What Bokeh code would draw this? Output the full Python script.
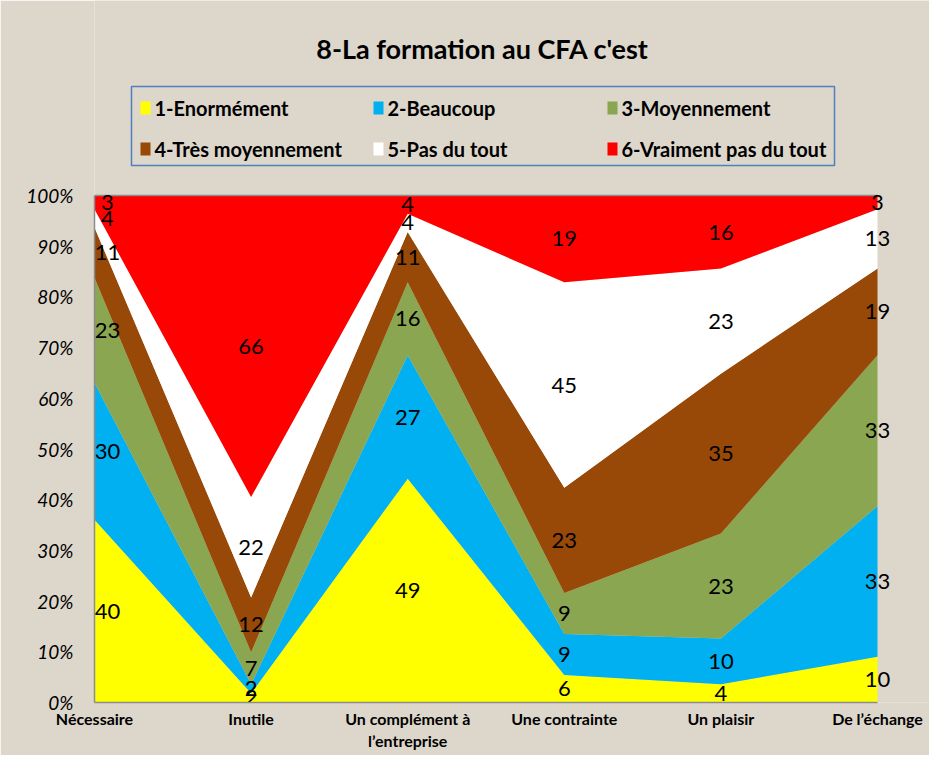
from bokeh.plotting import figure
from bokeh.models import Range1d, FixedTicker, ColumnDataSource
from bokeh.core.properties import value
from bokeh.embed import file_html
from bokeh.resources import INLINE
import numpy as np

categories = ["Nécessaire", "Inutile", "Un complément à\nl’entreprise", "Une contrainte", "Un plaisir", "De l’échange"]
series_names = ["1-Enormément", "2-Beaucoup", "3-Moyennement", "4-Très moyennement", "5-Pas du tout", "6-Vraiment pas du tout"]
enormement = [40, 2, 49, 6, 4, 10]
beaucoup = [30, 2, 27, 9, 10, 33]
moyennement = [23, 7, 16, 9, 23, 33]
tres_moyennement = [11, 12, 11, 23, 35, 19]
pas_du_tout = [4, 22, 4, 45, 23, 13]
vraiment_pas = [3, 66, 4, 19, 16, 3]
colors = ["#ffff00", "#00b0f0", "#8aa650", "#984807", "#ffffff", "#ff0000"]
y_ticks = [0, 10, 20, 30, 40, 50, 60, 70, 80, 90, 100]
title_text = "8-La formation au CFA c'est"

FONT = "Lato"
BG = "#ddd6cb"
series = [enormement, beaucoup, moyennement, tres_moyennement, pas_du_tout, vraiment_pas]
counts = np.array(series, dtype=float)
pct = counts / counts.sum(axis=0) * 100.0
x = list(range(len(categories)))

# layout geometry (page pixels)
W, H = 929, 755
LEFT, BOTTOM = 94, 702          # plot-area left / bottom in pixels
PX_X = 156.6                    # pixels per category step
PX_Y = 5.07                     # pixels per percent


def dx(px):
    return (px - LEFT) / PX_X


def dy(py):
    return (BOTTOM - py) / PX_Y


data = {"x": x}
keys = []
for i, row in enumerate(pct):
    k = f"s{i}"
    keys.append(k)
    data[k] = list(row)
src = ColumnDataSource(data)

p = figure(width=W, height=H, output_backend="svg", toolbar_location=None,
           x_range=Range1d(0, dx(W)), y_range=Range1d(0, dy(0)),
           min_border_left=LEFT, min_border_right=0, min_border_top=0, min_border_bottom=H - BOTTOM)
p.border_fill_color = BG
p.background_fill_color = BG
p.outline_line_color = None
p.xgrid.visible = False
p.ygrid.visible = False

p.varea_stack(stackers=keys, x="x", color=colors, source=src)

# plot-area top border
p.segment(x0=[0], y0=[100], x1=[5], y1=[100], line_color="#8c8c8c", line_width=1.5)

# data labels
lx, ly, lt, lo = [], [], [], []
cum = np.cumsum(pct, axis=0)
for i in range(len(series)):
    for j in range(len(categories)):
        mid = cum[i, j] - pct[i, j] / 2.0
        lx.append(j)
        ly.append(mid)
        lt.append(str(series[i][j]))
        lo.append(13 if j == 0 else 0)
lsrc = ColumnDataSource(dict(x=lx, y=ly, t=lt, o=lo))
p.text(x="x", y="y", text="t", x_offset="o", source=lsrc, text_align="center",
       text_baseline="middle", text_font=value(FONT), text_font_size="22px", text_color="#000000")

# axes
p.yaxis.bounds = (0, 100)
p.yaxis.ticker = FixedTicker(ticks=y_ticks)
p.yaxis.major_label_overrides = {t: f"{t}%" for t in y_ticks}
p.yaxis.major_label_text_font = FONT
p.yaxis.major_label_text_font_style = "italic"
p.yaxis.major_label_text_font_size = "19px"
p.yaxis.major_label_text_color = "#000000"
p.yaxis.major_tick_line_color = None
p.yaxis.major_tick_out = 0
p.yaxis.major_tick_in = 0
p.yaxis.minor_tick_line_color = None
p.yaxis.major_label_standoff = 21
p.yaxis.axis_line_color = "#8c8c8c"
p.yaxis.axis_line_width = 1.5

p.xaxis.bounds = (0, 5)
p.xaxis.ticker = FixedTicker(ticks=x)
p.xaxis.major_label_overrides = {i: c for i, c in enumerate(categories)}
p.xaxis.major_label_text_font = FONT
p.xaxis.major_label_text_font_style = "bold"
p.xaxis.major_label_text_font_size = "16px"
p.xaxis.major_label_text_line_height = 1.2
p.xaxis.major_label_text_color = "#000000"
p.xaxis.major_tick_line_color = None
p.xaxis.major_tick_out = 0
p.xaxis.major_tick_in = 0
p.xaxis.minor_tick_line_color = None
p.xaxis.major_label_standoff = 6
p.xaxis.axis_line_color = "#8c8c8c"
p.xaxis.axis_line_width = 1.5

# title
p.text(x=[dx(482)], y=[dy(48)], text=[title_text], text_align="center", text_baseline="middle",
       text_font=value(FONT), text_font_style="bold", text_font_size="27px", text_color="#000000")

# legend box
p.quad(left=[dx(131)], right=[dx(834)], top=[dy(86)], bottom=[dy(165)],
       fill_alpha=0, line_color="#4f81bd", line_width=1.5)
col_sw = [140, 373, 607]
row_y = [107, 148]
sw_l, sw_r, sw_t, sw_b, tx, ty = [], [], [], [], [], []
for i, name in enumerate(series_names):
    r, c = divmod(i, 3)
    sx = col_sw[c]
    sy = row_y[r]
    sw_l.append(dx(sx))
    sw_r.append(dx(sx + 10))
    sw_t.append(dy(sy - 6))
    sw_b.append(dy(sy + 7))
    tx.append(dx(sx + 14))
    ty.append(dy(sy))
p.quad(left=sw_l, right=sw_r, top=sw_t, bottom=sw_b, fill_color=colors, line_color=None)
p.text(x=tx, y=ty, text=series_names, text_align="left", text_baseline="middle",
       text_font=value(FONT), text_font_style="bold", text_font_size="20px", text_color="#000000")

open("out.html", "w").write(file_html(p, INLINE))
